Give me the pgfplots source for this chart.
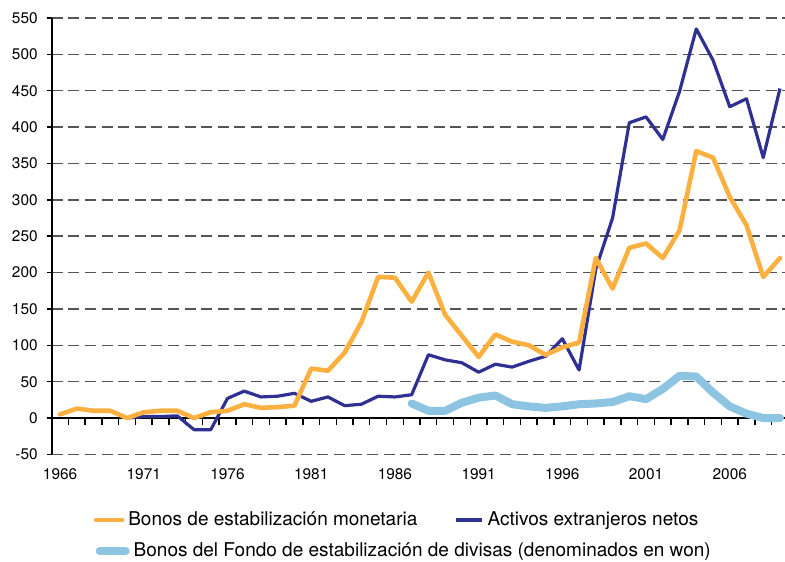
\documentclass[border=0pt]{standalone}
\usepackage{fontspec}
\setmainfont{TeX Gyre Heros}
\usepackage{pgfplots}
\usepackage{pgfplotstable}
\pgfplotsset{compat=1.18}
\definecolor{cOrange}{HTML}{FBB040}
\definecolor{cNavy}{HTML}{2E3192}
\definecolor{cLight}{HTML}{8CC4E2}
\definecolor{cGrid}{HTML}{555555}

\pgfplotstableread{
year val
1966 5
1967 13
1968 10
1969 10
1970 0
1971 8
1972 10
1973 10
1974 0
1975 8
1976 10
1977 19
1978 14
1979 15
1980 17
1981 68
1982 65
1983 90
1984 132
1985 194
1986 193
1987 160
1988 200
1989 142
1990 113
1991 84
1992 115
1993 105
1994 100
1995 87
1996 97
1997 104
1998 220
1999 178
2000 234
2001 240
2002 220
2003 258
2004 367
2005 358
2006 304
2007 265
2008 194
2009 220
}\monetaria

\pgfplotstableread{
year val
1970 0
1971 2
1972 2
1973 3
1974 -16
1975 -16
1976 27
1977 37
1978 29
1979 30
1980 34
1981 23
1982 29
1983 17
1984 19
1985 30
1986 29
1987 32
1988 87
1989 80
1990 76
1991 63
1992 74
1993 70
1994 78
1995 85
1996 109
1997 66
1998 205
1999 275
2000 406
2001 414
2002 383
2003 449
2004 535
2005 492
2006 428
2007 439
2008 358
2009 453
}\activos

\pgfplotstableread{
year val
1987 20
1988 10
1989 10
1990 21
1991 28
1992 31
1993 19
1994 16
1995 14
1996 16
1997 19
1998 20
1999 22
2000 30
2001 26
2002 40
2003 58
2004 57
2005 35
2006 16
2007 6
2008 0
2009 0
}\fondo

\pgfplotsset{
  base/.style={
    scale only axis, width=366.65pt, height=218.2pt,
    xmin=1965.5, xmax=2009.3, ymin=-50, ymax=550,
    font=\fontsize{7.7}{9}\selectfont,
    /pgf/number format/assume math mode=true,
    clip=false,
  },
  leg/.style={
    legend cell align=left,
    legend style={draw=none, fill=none, inner sep=0pt, outer sep=0pt,
      font=\fontsize{9.5}{11}\selectfont,
      /tikz/every even column/.append style={column sep=16.5pt}},
    legend image code/.code={\draw[##1] (0pt,0pt) -- (13pt,0pt);},
  },
}

\begin{document}
\begin{tikzpicture}
% axis 1: grid, y axis, labels, second legend row
\begin{axis}[base, leg, name=ax,
  axis y line*=left, axis x line*=bottom,
  x axis line style={draw=none},
  y axis line style={-, black, line width=1pt},
  xtick={1966,1971,1976,1981,1986,1991,1996,2001,2006},
  xticklabels={1966,1971,1976,1981,1986,1991,1996,2001,2006},
  xtick style={draw=none},
  ytick={-50,0,...,550},
  ytick style={black, line width=0.7pt},
  tick align=outside, major tick length=2.5pt,
  ymajorgrids,
  major grid style={cGrid, dash pattern=on 5.5pt off 2.8pt, line width=0.7pt},
  xticklabel style={yshift=-1pt},
  yticklabel style={xshift=-1pt},
  legend style={at={(rel axis cs:0,0)}, anchor=west, xshift=22pt, yshift=-48.4pt},
]
\addplot[draw=none, forget plot] coordinates {(1970,0)};
\addlegendimage{cLight, line width=4pt, line cap=round}
\addlegendentry{Bonos del Fondo de estabilización de divisas (denominados en won)}
\end{axis}
% axis 2: zero line with year ticks
\begin{axis}[base,
  axis x line=middle, axis y line=none,
  x axis line style={-, black, line width=1pt},
  xtick={1965.5,1966.5,...,2008.5},
  xticklabels={},
  tick align=outside, major tick length=3.5pt,
  xtick style={black, line width=0.7pt},
]
\addplot[draw=none, forget plot] coordinates {(1970,0)};
\end{axis}
% axis 3: data
\begin{axis}[base, leg,
  hide axis,
  legend columns=2,
  legend style={at={(rel axis cs:0,0)}, anchor=west, xshift=21pt, yshift=-32.8pt},
]
\addlegendimage{cOrange, line width=2.3pt, line cap=round}
\addlegendimage{cNavy, line width=1.6pt}
\addplot[cNavy, line width=1.6pt, line join=round, forget plot] table[x=year, y=val] {\activos};
\addplot[cOrange, line width=2.3pt, line join=round, line cap=round, forget plot] table[x=year, y=val] {\monetaria};
\addplot[cLight, line width=4pt, line join=round, line cap=round, forget plot] table[x=year, y=val] {\fondo};
\legend{Bonos de estabilización monetaria, Activos extranjeros netos}
\end{axis}
\pgfresetboundingbox
\path ([shift={(-25.85pt,-53.3pt)}]ax.south west) rectangle ++(392.5pt,280.5pt);
\end{tikzpicture}
\end{document}
